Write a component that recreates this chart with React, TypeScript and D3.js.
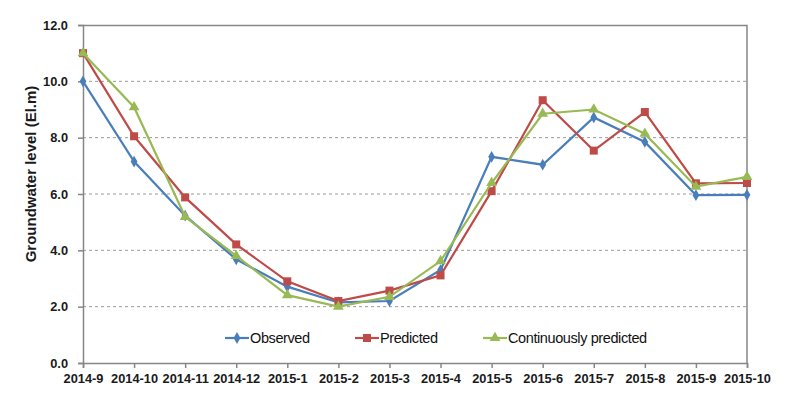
import React, { useEffect, useRef } from "react";
import * as d3 from "d3";

const months = [
  "2014-9", "2014-10", "2014-11", "2014-12", "2015-1", "2015-2", "2015-3",
  "2015-4", "2015-5", "2015-6", "2015-7", "2015-8", "2015-9", "2015-10",
];
const observed = [10.0, 7.15, 5.23, 3.68, 2.71, 2.15, 2.2, 3.3, 7.32, 7.04, 8.72, 7.85, 5.96, 5.97];
const predicted = [11.0, 8.05, 5.88, 4.21, 2.9, 2.2, 2.57, 3.11, 6.1, 9.33, 7.54, 8.91, 6.38, 6.39];
const continuous = [11.0, 9.08, 5.19, 3.8, 2.41, 2.0, 2.35, 3.62, 6.39, 8.85, 9.0, 8.14, 6.26, 6.61];
const yTicks = [0, 2, 4, 6, 8, 10, 12];

const series = [
  { name: "Observed", values: observed, color: "#4a7ebb", marker: "diamond" },
  { name: "Predicted", values: predicted, color: "#be4b48", marker: "square" },
  { name: "Continuously predicted", values: continuous, color: "#98b954", marker: "triangle" },
];

const symbolFor = (m: string) =>
  m === "diamond" ? d3.symbolDiamond : m === "square" ? d3.symbolSquare : d3.symbolTriangle;
const sizeFor = (m: string) => (m === "diamond" ? 40 : m === "square" ? 64 : 50);

export default function App() {
  const ref = useRef<SVGSVGElement>(null);

  useEffect(() => {
    if (!ref.current) return;
    const svg = d3.select(ref.current);
    svg.selectAll("*").remove();

    const margin = { top: 25, right: 53, bottom: 36, left: 83 };
    const width = 800 - margin.left - margin.right;
    const height = 399 - margin.top - margin.bottom;

    const g = svg.append("g").attr("transform", `translate(${margin.left},${margin.top})`);

    const x = d3.scalePoint<string>().domain(months).range([0, width]);
    const y = d3.scaleLinear().domain([0, 12]).range([height, 0]);

    // gridlines
    g.selectAll(".grid")
      .data(yTicks.filter((t) => t > 0 && t < 12))
      .join("line")
      .attr("x1", 0)
      .attr("x2", width)
      .attr("y1", (d) => y(d))
      .attr("y2", (d) => y(d))
      .attr("stroke", "#9a9a9a")
      .attr("stroke-dasharray", "3,3")
      .attr("stroke-width", 1);

    // frame top/right
    g.append("path")
      .attr("d", `M0,0.5H${width}V${height}`)
      .attr("fill", "none")
      .attr("stroke", "#868686")
      .attr("stroke-width", 1.5);

    // axes
    const xAxis = g
      .append("g")
      .attr("transform", `translate(0,${height})`)
      .call(d3.axisBottom(x).tickSize(5).tickPadding(6));
    const yAxis = g.append("g").call(
      d3.axisLeft(y).tickValues(yTicks).tickFormat(d3.format(".1f")).tickSize(5).tickPadding(10)
    );
    [xAxis, yAxis].forEach((a) => {
      a.select(".domain").attr("stroke", "#868686").attr("stroke-width", 1.5);
      a.selectAll(".tick line").attr("stroke", "#868686").attr("stroke-width", 1.5);
      a.selectAll("text")
        .attr("fill", "#1a1a1a")
        .style("font-family", "'Liberation Sans', Arial, sans-serif")
        .style("font-weight", "bold")
        .style("font-size", "12.8px");
    });

    // y title
    svg
      .append("text")
      .attr("transform", `translate(36,174) rotate(-90)`)
      .attr("text-anchor", "middle")
      .style("font-family", "'Liberation Sans', Arial, sans-serif")
      .style("font-weight", "bold")
      .style("font-size", "15px")
      .attr("fill", "#1a1a1a")
      .text("Groundwater level (El.m)");

    const line = d3
      .line<number>()
      .x((_, i) => x(months[i]) as number)
      .y((d) => y(d));

    series.forEach((s) => {
      g.append("path")
        .datum(s.values)
        .attr("fill", "none")
        .attr("stroke", s.color)
        .attr("stroke-width", 2.2)
        .attr("d", line);
      g.selectAll(null)
        .data(s.values)
        .join("path")
        .attr("transform", (d, i) => `translate(${x(months[i])},${y(d)})`)
        .attr("d", d3.symbol(symbolFor(s.marker), sizeFor(s.marker))())
        .attr("fill", s.color);
    });

    // legend
    const legendX = [225, 355, 483];
    const legendY = 338;
    series.forEach((s, i) => {
      const lg = svg.append("g").attr("transform", `translate(${legendX[i]},${legendY})`);
      lg.append("line")
        .attr("x1", 0)
        .attr("x2", 24)
        .attr("stroke", s.color)
        .attr("stroke-width", 2.2);
      lg.append("path")
        .attr("transform", "translate(12,0)")
        .attr("d", d3.symbol(symbolFor(s.marker), sizeFor(s.marker))())
        .attr("fill", s.color);
      lg.append("text")
        .attr("x", 25)
        .attr("dy", "0.35em")
        .style("font-family", "'Liberation Sans', Arial, sans-serif")
        .style("font-size", "14.5px")
        .style("letter-spacing", "-0.4px")
        .attr("fill", "#111")
        .text(s.name);
    });
  }, []);

  return (
    <svg
      ref={ref}
      width={800}
      height={399}
      style={{ position: "absolute", left: 0, top: 0, background: "#fff" }}
    />
  );
}
